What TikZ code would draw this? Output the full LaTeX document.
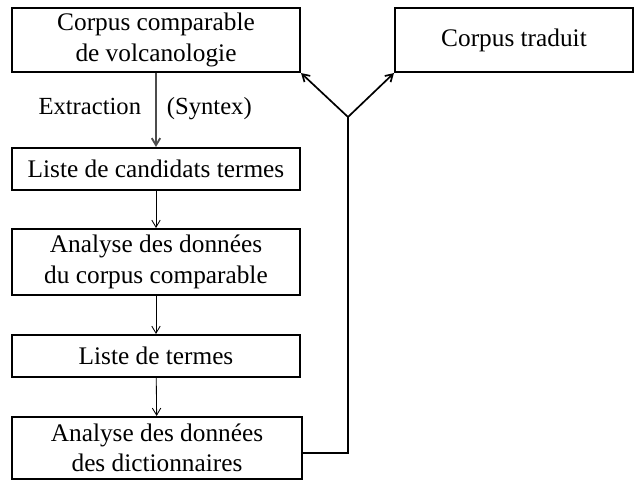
\documentclass[tikz,border=0pt]{standalone}
\usepackage{fontspec}
\setmainfont{Liberation Serif}
\usetikzlibrary{arrows.meta}

\newcommand{\pix}{0.025cm}

\tikzset{
    etape/.style={draw, line width=1.5pt, fill=white, align=center,
        inner sep=0pt, font=\fontsize{18}{21.5}\selectfont},
    fleche/.style={-{Straight Barb[length=5pt,width=6pt]}, line width=0.6pt},
    lien/.style={line width=1.5pt},
    etiquette/.style={text=black, font=\fontsize{17.5}{21}\selectfont}
}

\begin{document}
\begin{tikzpicture}[x=\pix, y=-\pix]

            \useasboundingbox (0,0) rectangle (635,481);

            % chaine principale
            \node[etape, minimum width=288*\pix, minimum height=64*\pix] (corpus) at (156,40)
                {Corpus comparable\\de volcanologie};
            \node[etape, minimum width=238*\pix, minimum height=64*\pix] (traduit) at (514,40)
                {Corpus traduit};
            \node[etape, minimum width=288*\pix, minimum height=42*\pix] (candidats) at (156,169)
                {Liste de candidats termes};
            \node[etape, minimum width=288*\pix, minimum height=66*\pix] (analyse) at (156,262)
                {Analyse des donn\'ees\\du corpus comparable};
            \node[etape, minimum width=288*\pix, minimum height=42*\pix] (termes) at (156,356)
                {Liste de termes};
            \node[etape, minimum width=290*\pix, minimum height=62*\pix] (dicos) at (157,448)
                {Analyse des donn\'ees\\des dictionnaires};

            \draw[fleche, line width=1.3pt, draw=black!70] (corpus) -- (candidats);
            \node[etiquette, anchor=base east] (extr) at (146,114) {Extraction};
            \node[etiquette, anchor=base west] (syntex) at (162,114) {(Syntex)};
            \draw[fleche] (candidats) -- (analyse);
            \draw[fleche] (analyse) -- (termes);
            \draw[fleche] (termes) -- (dicos);

            % retour vers les corpus
            \coordinate (fourche) at (348,117);
            \draw[lien] ([yshift=-5*\pix]dicos.east) -| (fourche);
            \draw[fleche, line width=1.2pt] (fourche) -- (corpus.south east);
            \draw[fleche, line width=1.2pt] (fourche) -- (traduit.south west);

\end{tikzpicture}
\end{document}
